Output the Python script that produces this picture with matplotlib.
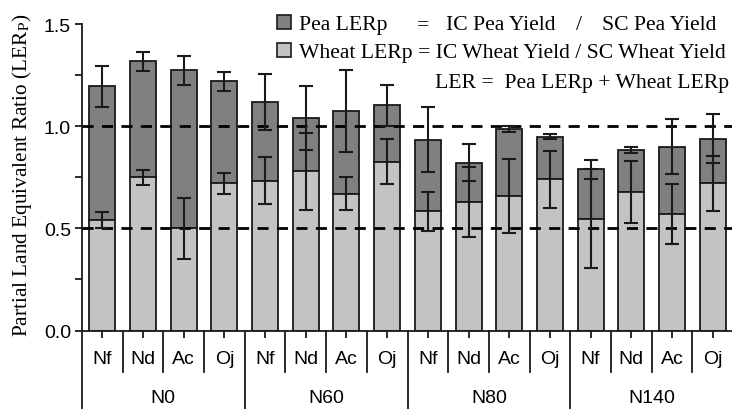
import matplotlib
matplotlib.use("Agg")
import matplotlib.pyplot as plt
import matplotlib.transforms as mtrans
from matplotlib.patches import Rectangle
import numpy as np

groups = ["N0", "N60", "N80", "N140"]
varieties = ["Nf", "Nd", "Ac", "Oj"]
wheat_lerp = [0.541, 0.75, 0.50, 0.72, 0.732, 0.779, 0.67, 0.827,
              0.583, 0.63, 0.659, 0.739, 0.548, 0.678, 0.569, 0.72]
pea_lerp = [0.655, 0.567, 0.773, 0.499, 0.385, 0.261, 0.404, 0.275,
            0.351, 0.192, 0.326, 0.21, 0.241, 0.206, 0.331, 0.219]
pea_err = [0.10, 0.045, 0.07, 0.047, 0.136, 0.158, 0.20, 0.10,
           0.16, 0.09, 0.014, 0.014, 0.046, 0.014, 0.135, 0.12]
wheat_err = [0.04, 0.036, 0.15, 0.053, 0.115, 0.19, 0.08, 0.11,
             0.095, 0.17, 0.18, 0.14, 0.244, 0.15, 0.148, 0.135]

W, H = 732, 410
plt.rcParams["mathtext.fontset"] = "stix"
fig = plt.figure(figsize=(W / 100, H / 100), dpi=100)
ax = fig.add_axes([82 / W, (H - 331.5) / H, 651 / W, (331.5 - 25) / H])

dark = "#808080"
light = "#c3c3c3"
edge = "#1a1a1a"
n = len(wheat_lerp)
x = np.arange(n)
wheat = np.array(wheat_lerp)
pea = np.array(pea_lerp)
total = wheat + pea

ax.bar(x, pea, bottom=wheat, width=0.64, color=dark, edgecolor=edge, linewidth=1.3, zorder=2)
ax.bar(x, wheat, width=0.64, color=light, edgecolor=edge, linewidth=1.3, zorder=2)

ax.axhline(1.0, color="black", lw=2, ls=(0, (4, 3)), zorder=3)
ax.axhline(0.5, color="black", lw=2, ls=(0, (4, 3)), zorder=3)

ax.errorbar(x, total, yerr=pea_err, fmt="none", ecolor=edge, elinewidth=1.5, capsize=5, capthick=1.5, zorder=4)
ax.errorbar(x, wheat, yerr=wheat_err, fmt="none", ecolor=edge, elinewidth=1.5, capsize=5, capthick=1.5, zorder=4)

ax.set_xlim(-0.5, n - 0.5)
ax.set_ylim(0, 1.5)
ax.set_yticks([0, 0.5, 1.0, 1.5])
ax.set_yticklabels(["0.0", "0.5", "1.0", "1.5"], fontfamily="Liberation Sans", fontsize=14)
ax.set_yticks([0.25, 0.75, 1.25], minor=True)
ax.tick_params(axis="y", which="both", length=5, width=1.3, color=edge, direction="out", pad=3)
ax.set_xticks(x)
ax.set_xticklabels([])
ax.tick_params(axis="x", length=5, width=1.3, color=edge, direction="out")
for s in ["top", "right"]:
    ax.spines[s].set_visible(False)
for s in ["left", "bottom"]:
    ax.spines[s].set_linewidth(1.3)
    ax.spines[s].set_color(edge)

trans = mtrans.blended_transform_factory(ax.transData, ax.transAxes)
axh = 331.5 - 25
for i in range(n + 1):
    xb = i - 0.5
    depth = 80 / axh if i % 4 == 0 else 41.5 / axh
    ax.plot([xb, xb], [0, -depth], transform=trans, color=edge, lw=1.3, clip_on=False)
for i in range(n):
    ax.text(i, -28.5 / axh, varieties[i % 4], transform=trans, ha="center", va="center",
            fontfamily="Liberation Sans", fontsize=14)
for g, name in enumerate(groups):
    ax.text(4 * g + 1.5, -67.5 / axh, name, transform=trans, ha="center", va="center",
            fontfamily="Liberation Sans", fontsize=14)

fig.text(22 / W, (H - 175) / H, r"Partial Land Equivalent Ratio (LER$_\mathrm{P}$)", rotation=90,
         ha="center", va="center", fontfamily="Liberation Serif", fontsize=15.3)


def px(xp, yp):
    return xp / W, (H - yp) / H


for ytop, col in [(16, dark), (44, light)]:
    fig.patches.append(Rectangle(px(277, ytop + 14), 14 / W, 14 / H, transform=fig.transFigure,
                                 facecolor=col, edgecolor=edge, lw=1.2))
lf = dict(fontfamily="Liberation Serif", fontsize=15.6, va="baseline", ha="left")
fig.text(*px(299, 30), "Pea LERp", **lf)
fig.text(*px(417, 30), "=", **lf)
fig.text(*px(446, 30), "IC Pea Yield", **lf)
fig.text(*px(576, 30), "/", **lf)
fig.text(*px(602, 30), "SC Pea Yield", **lf)
fig.text(*px(299, 58), "Wheat LERp = IC Wheat Yield / SC Wheat Yield", **lf)
lf3 = dict(lf)
lf3["ha"] = "right"
fig.text(*px(729, 88), "LER =  Pea LERp + Wheat LERp", **lf3)

fig.savefig("out.png", dpi=100)
